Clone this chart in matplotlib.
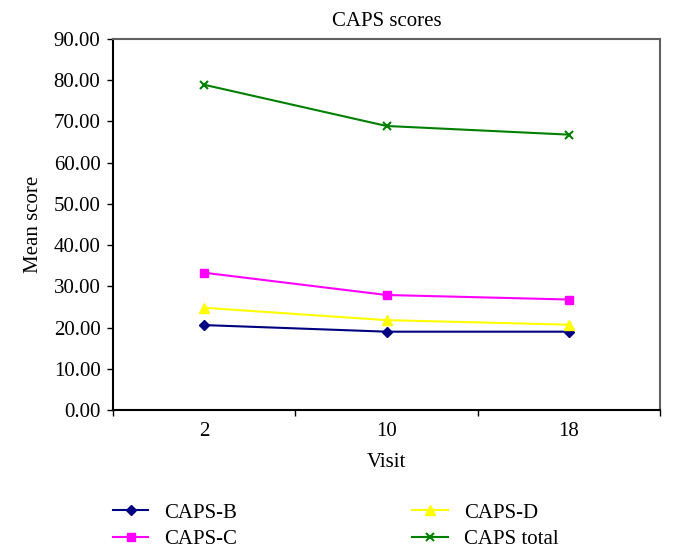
import matplotlib
matplotlib.use("Agg")
import matplotlib.pyplot as plt
from matplotlib.ticker import FormatStrFormatter, FixedLocator

visits = ["2", "10", "18"]
caps_b = [20.6, 19.0, 19.0]
caps_c = [33.3, 27.9, 26.8]
caps_d = [24.8, 21.8, 20.7]
caps_total = [78.9, 68.9, 66.8]

series_names = ["CAPS-B", "CAPS-C", "CAPS-D", "CAPS total"]
yticks = [0, 10, 20, 30, 40, 50, 60, 70, 80, 90]

plt.rcParams['font.family'] = ['Liberation Serif', 'DejaVu Serif']

fig = plt.figure(figsize=(6.75, 5.58), dpi=100)
ax = fig.add_axes([113/675, 1-410/558, (660-113)/675, (410-39)/558])

xs = [i + 0.5 for i in range(len(visits))]
styles = [
    (caps_b, "#000080", "D", 5),
    (caps_c, "#FF00FF", "s", 6),
    (caps_d, "#FFFF00", "^", 7),
    (caps_total, "#008000", "x", 6),
]
handles = []
for (vals, col, mk, ms), name in zip(styles, series_names):
    h, = ax.plot(xs, vals, color=col, marker=mk, markersize=ms, lw=1.5,
                 markeredgewidth=1.5 if mk == "x" else 1.0, label=name)
    handles.append(h)

FS = 15
ax.set_xlim(0, len(visits))
ax.set_ylim(0, 90)
ax.set_yticks(yticks)
ax.yaxis.set_major_formatter(FormatStrFormatter("%.2f"))
ax.xaxis.set_major_locator(FixedLocator(list(range(len(visits) + 1))))
ax.xaxis.set_minor_locator(FixedLocator(xs))
ax.set_xticks(xs, visits, minor=True)
ax.tick_params(axis='x', which='major', labelbottom=False, length=4, direction='out', width=1)
ax.tick_params(axis='x', which='minor', length=0, labelsize=FS, pad=9)
ax.tick_params(axis='y', labelsize=FS, length=4, width=1, direction='out', pad=5)

for s in ["left", "bottom"]:
    ax.spines[s].set_color("black")
    ax.spines[s].set_linewidth(1.5)
for s in ["top", "right"]:
    ax.spines[s].set_color("#606060")
    ax.spines[s].set_linewidth(1.5)

ax.set_title("CAPS scores", fontsize=FS, pad=9)
ax.set_xlabel("Visit", fontsize=FS, labelpad=8)
ax.set_ylabel("Mean score", fontsize=FS, labelpad=8)

fig.legend(handles=handles, labels=series_names, loc="upper left",
           bbox_to_anchor=(113/675, 1-503/558), ncol=2, frameon=False,
           fontsize=FS, handlelength=1.7, handletextpad=0.77,
           columnspacing=8.4, labelspacing=0.35, borderpad=0, borderaxespad=0)

fig.savefig("out.png", dpi=100)
